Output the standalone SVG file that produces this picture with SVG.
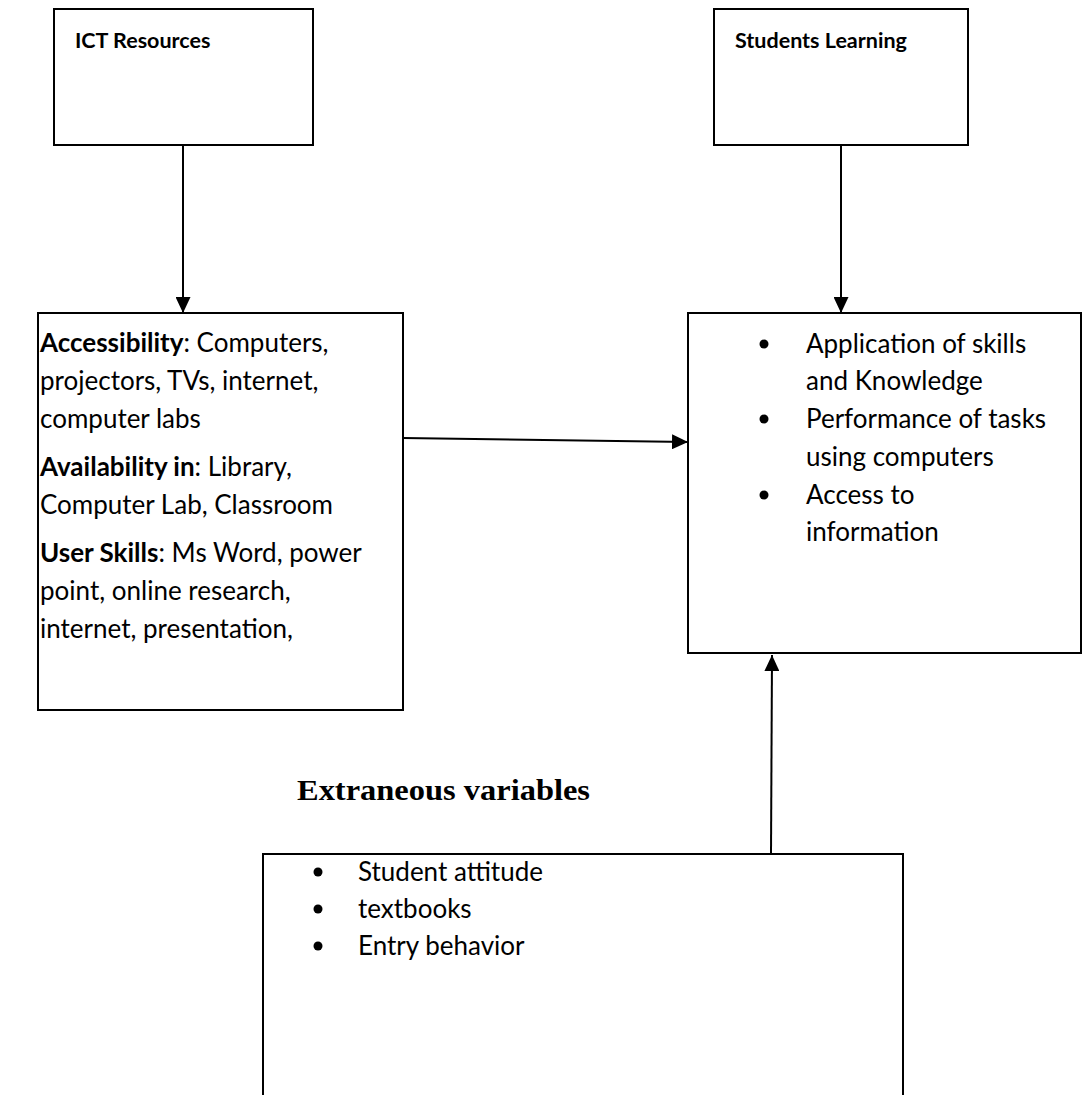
<svg xmlns="http://www.w3.org/2000/svg" width="1082" height="1095" viewBox="0 0 1082 1095">
  <style>
    .box { fill: #ffffff; stroke: #000000; stroke-width: 2; }
    .t { font-family: Lato, "Open Sans", sans-serif; font-size: 26px; fill: #000000; }
    .h { font-family: Lato, "Open Sans", sans-serif; font-size: 21.5px; font-weight: bold; fill: #000000; }
    .b { font-weight: bold; }
    .conn { stroke: #000000; stroke-width: 2; fill: none; }
    .ext { font-family: "Liberation Serif", "Times New Roman", serif; font-weight: bold; font-size: 30px; fill: #000000; }
  </style>
  <defs>
    <marker id="arrow" viewBox="0 0 16 15" markerWidth="16" markerHeight="15" refX="16" refY="7.5" orient="auto" markerUnits="userSpaceOnUse">
      <path d="M0,0 L16,7.5 L0,15 z" fill="#000000"/>
    </marker>
  </defs>
  <rect width="1082" height="1095" fill="#ffffff"/>

  <g id="ict-resources">
    <rect class="box" x="54" y="9" width="259" height="136"/>
    <text class="h" x="75" y="48">ICT Resources</text>
  </g>

  <g id="students-learning">
    <rect class="box" x="714" y="9" width="254" height="136"/>
    <text class="h" x="735" y="48">Students Learning</text>
  </g>

  <g id="ict-details">
    <rect class="box" x="38" y="313" width="365" height="397"/>
    <text class="t" x="40" y="352"><tspan class="b">Accessibility</tspan>: Computers,</text>
    <text class="t" x="40" y="390">projectors, TVs, internet,</text>
    <text class="t" x="40" y="428">computer labs</text>
    <text class="t" x="40" y="476"><tspan class="b">Availability in</tspan>: Library,</text>
    <text class="t" x="40" y="514">Computer Lab, Classroom</text>
    <text class="t" x="40" y="562"><tspan class="b">User Skills</tspan>: Ms Word, power</text>
    <text class="t" x="40" y="600">point, online research,</text>
    <text class="t" x="40" y="638">internet, presentation,</text>
  </g>

  <g id="learning-outcomes">
    <rect class="box" x="688" y="313" width="393" height="340"/>
    <circle cx="764" cy="344" r="4.5"/>
    <text class="t" x="806" y="353">Application of skills</text>
    <text class="t" x="806" y="390">and Knowledge</text>
    <circle cx="764" cy="419" r="4.5"/>
    <text class="t" x="806" y="428">Performance of tasks</text>
    <text class="t" x="806" y="466">using computers</text>
    <circle cx="764" cy="495" r="4.5"/>
    <text class="t" x="806" y="504">Access to</text>
    <text class="t" x="806" y="541">information</text>
  </g>

  <g id="extraneous-label">
    <text class="ext" x="297" y="800" textLength="293" lengthAdjust="spacingAndGlyphs">Extraneous variables</text>
  </g>

  <g id="extraneous-variables">
    <rect class="box" x="263" y="854" width="640" height="300"/>
    <circle cx="318" cy="872" r="4.5"/>
    <text class="t" x="358" y="881">Student attitude</text>
    <circle cx="318" cy="909" r="4.5"/>
    <text class="t" x="358" y="918">textbooks</text>
    <circle cx="318" cy="946" r="4.5"/>
    <text class="t" x="358" y="955">Entry behavior</text>
  </g>

  <g id="connectors">
    <line class="conn" x1="183" y1="145" x2="183" y2="313" marker-end="url(#arrow)"/>
    <line class="conn" x1="841" y1="145" x2="841" y2="313" marker-end="url(#arrow)"/>
    <line class="conn" x1="403" y1="438" x2="688" y2="442" marker-end="url(#arrow)"/>
    <line class="conn" x1="771" y1="854" x2="772" y2="655" marker-end="url(#arrow)"/>
  </g>
</svg>
